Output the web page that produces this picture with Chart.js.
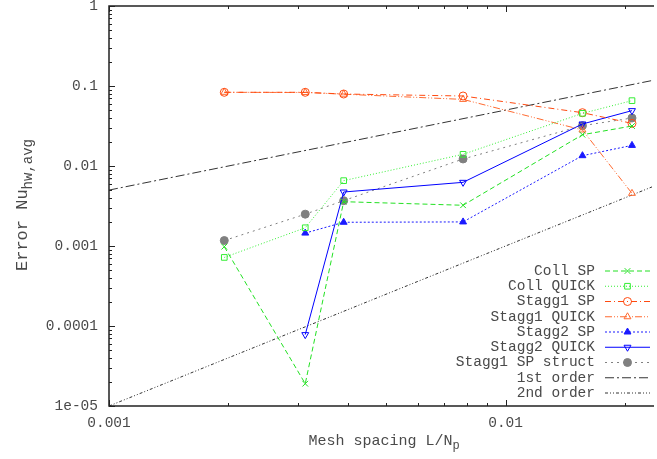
<!DOCTYPE html>
<html>
<head>
<meta charset="utf-8">
<script src="https://cdn.jsdelivr.net/npm/chart.js@4.4.1/dist/chart.umd.min.js"></script>
<style>
  html, body { margin: 0; padding: 0; background: #fff; overflow: hidden; }
  #wrap { width: 657px; height: 459px; }
</style>
</head>
<body>
<div id="wrap"><canvas id="chart" width="657" height="459"></canvas></div>
<script>
// mesh spacing L/Np
const meshX = [0.001953, 0.003125, 0.003906, 0.007813, 0.015625, 0.020833];

const collSP       = [0.00098, 0.000019, 0.00358, 0.00323, 0.0246, 0.0316];
const collQUICK    = [0.00072, 0.00169, 0.00656, 0.0140, 0.0455, 0.0656];
const stagg1SP     = [0.0834, 0.0834, 0.0794, 0.0750, 0.0464, 0.0341];
const stagg1QUICK  = [0.0834, 0.0830, 0.0790, 0.0680, 0.0282, 0.00455];
const stagg2SP     = [null, 0.00145, 0.00198, 0.00200, 0.01346, 0.0181];
const stagg2QUICK  = [null, 0.000078, 0.00473, 0.00625, 0.0335, 0.0492];
const stagg1Struct = [0.00117, 0.00250, 0.00369, 0.01224, 0.0319, 0.0398];

// reference slopes, read at the left and right edge of the plot
const orderX      = [0.001, 0.0236];
const firstOrder  = [0.005, 0.118];
const secondOrder = [0.00001, 0.00557];

const xTicks = [0.001, 0.01];
const xTickLabels = ['0.001', '0.01'];
const yTicks = [0.00001, 0.0001, 0.001, 0.01, 0.1, 1];
const yTickLabels = ['1e-05', '0.0001', '0.001', '0.01', '0.1', '1'];

const FONT = '"Liberation Mono", "DejaVu Sans Mono", monospace';
const TEXT = '#4a4a4a';

const pts = (xs, ys) => xs.map((x, i) => ({ x: x, y: ys[i] })).filter(p => p.y != null);

const series = (label, ys, color, dash, style, filled, rot) => ({
    label: label,
    data: pts(meshX, ys),
    showLine: true,
    borderColor: color,
    borderWidth: 1,
    borderDash: dash,
    pointStyle: style,
    pointRotation: rot || 0,
    pointRadius: style === 'rect' ? 4 : 4,
    pointBorderWidth: 1,
    pointBorderColor: color,
    pointBackgroundColor: filled ? color : 'rgba(0,0,0,0)',
    pointHoverRadius: 4
});

const refLine = (label, ys, dash) => ({
    label: label,
    data: pts(orderX, ys),
    showLine: true,
    borderColor: '#333',
    borderWidth: 1,
    borderDash: dash,
    pointRadius: 0,
    pointStyle: false
});

const datasets = [
    series('Coll SP', collSP, '#22e022', [5, 3], 'crossRot', false),
    series('Coll QUICK', collQUICK, '#33ee33', [1, 2], 'rect', false),
    series('Stagg1 SP', stagg1SP, '#ff4a10', [6, 3, 1, 3], 'circle', false),
    series('Stagg1 QUICK', stagg1QUICK, '#ff6a30', [7, 2, 1, 2, 1, 2], 'triangle', false),
    series('Stagg2 SP', stagg2SP, '#1a1aff', [2, 2], 'triangle', true),
    series('Stagg2 QUICK', stagg2QUICK, '#0000ff', [], 'triangle', false, 180),
    series('Stagg1 SP struct', stagg1Struct, '#808080', [2, 4], 'circle', true),
    refLine('1st order', firstOrder, [9, 3, 2, 3]),
    refLine('2nd order', secondOrder, [3, 2, 1, 2, 1, 2])
];

// frame, inward ticks, axis titles and the key
const decor = {
    id: 'decor',
    afterDraw(chart) {
        const ctx = chart.ctx;
        const a = chart.chartArea;
        const xs = chart.scales.x, ys = chart.scales.y;
        ctx.save();
        ctx.strokeStyle = '#222';
        ctx.lineWidth = 1.5;
        ctx.setLineDash([]);
        ctx.beginPath();
        ctx.moveTo(a.right + 2, a.top); ctx.lineTo(a.left, a.top);
        ctx.lineTo(a.left, a.bottom); ctx.lineTo(a.right + 2, a.bottom);
        ctx.stroke();

        ctx.lineWidth = 1;
        const tick = (x1, y1, x2, y2) => { ctx.beginPath(); ctx.moveTo(x1, y1); ctx.lineTo(x2, y2); ctx.stroke(); };
        for (let e = -3; e <= -2; e++) {
            for (let m = 1; m <= 9; m++) {
                const v = m * Math.pow(10, e);
                if (v < xs.min || v > xs.max) continue;
                const px = Math.round(xs.getPixelForValue(v)) + 0.5;
                const len = m === 1 ? 6 : 3;
                tick(px, a.bottom, px, a.bottom - len);
                tick(px, a.top, px, a.top + len);
            }
        }
        for (let e = -5; e <= 0; e++) {
            for (let m = 1; m <= 9; m++) {
                const v = m * Math.pow(10, e);
                if (v < ys.min || v > ys.max * 1.0001) continue;
                const py = Math.round(ys.getPixelForValue(v)) + 0.5;
                const len = m === 1 ? 6 : 3;
                tick(a.left, py, a.left + len, py);
            }
        }

        // axis titles
        ctx.fillStyle = TEXT;
        ctx.textBaseline = 'alphabetic';
        ctx.textAlign = 'left';
        const mainF = '15px ' + FONT, subF = '12px ' + FONT;
        ctx.font = mainF;
        const xt = 'Mesh spacing L/N', xw = ctx.measureText(xt).width;
        ctx.font = subF;
        const xsw = ctx.measureText('p').width;
        let x0 = 384 - (xw + xsw) / 2;
        ctx.font = mainF; ctx.fillText(xt, x0, 445);
        ctx.font = subF; ctx.fillText('p', x0 + xw, 449);

        ctx.save();
        ctx.translate(27, 205);
        ctx.rotate(-Math.PI / 2);
        const yfm = '17px ' + FONT, yfs = '14px ' + FONT;
        ctx.font = yfm;
        const yt = 'Error Nu', yw = ctx.measureText(yt).width;
        ctx.font = yfs;
        const ysw = ctx.measureText('hw,avg').width;
        x0 = -(yw + ysw) / 2;
        ctx.font = yfm; ctx.fillText(yt, x0, 0);
        ctx.font = yfs; ctx.fillText('hw,avg', x0 + yw, 5);
        ctx.restore();

        // key
        chart.data.datasets.forEach((ds, i) => {
            const y = 271 + i * 15.25;
            ctx.font = '14.5px ' + FONT;
            ctx.fillStyle = TEXT;
            ctx.textAlign = 'right';
            ctx.textBaseline = 'middle';
            ctx.fillText(ds.label, 595, y);
            ctx.strokeStyle = ds.borderColor;
            ctx.lineWidth = 1;
            ctx.setLineDash(ds.borderDash);
            tick(605, y, 650, y);
            ctx.setLineDash([]);
            if (ds.pointStyle) {
                ctx.strokeStyle = ds.pointBorderColor;
                ctx.fillStyle = ds.pointBackgroundColor;
                ctx.lineWidth = 1;
                Chart.helpers.drawPoint(ctx, {
                    pointStyle: ds.pointStyle,
                    rotation: ds.pointRotation,
                    radius: ds.pointRadius,
                    borderWidth: 1
                }, 627.5, y);
            }
        });
        ctx.restore();
    }
};

new Chart(document.getElementById('chart'), {
    type: 'scatter',
    data: { datasets: datasets },
    plugins: [decor],
    options: {
        responsive: false,
        animation: false,
        events: [],
        layout: { padding: { top: 6, right: 0, left: 0, bottom: 0 } },
        plugins: { legend: { display: false }, tooltip: { enabled: false } },
        scales: {
            x: {
                type: 'logarithmic',
                min: 0.001,
                max: 0.0234,
                afterBuildTicks: s => { s.ticks = xTicks.map(v => ({ value: v })); },
                afterFit: s => { s.height = 53; s.paddingLeft = 0; s.paddingRight = 0; },
                grid: { display: false, drawTicks: false },
                border: { display: false },
                ticks: {
                    autoSkip: false,
                    maxRotation: 0,
                    padding: 8,
                    color: TEXT,
                    font: { family: FONT, size: 14.5 },
                    callback: (v, i) => xTickLabels[i]
                }
            },
            y: {
                type: 'logarithmic',
                min: 0.00001,
                max: 1,
                afterBuildTicks: s => { s.ticks = yTicks.map(v => ({ value: v })); },
                afterFit: s => { s.width = 109; s.paddingTop = 0; s.paddingBottom = 0; },
                grid: { display: false, drawTicks: false },
                border: { display: false },
                ticks: {
                    autoSkip: false,
                    padding: 11,
                    color: TEXT,
                    font: { family: FONT, size: 14.5 },
                    callback: (v, i) => yTickLabels[i]
                }
            }
        }
    }
});
</script>
</body>
</html>
